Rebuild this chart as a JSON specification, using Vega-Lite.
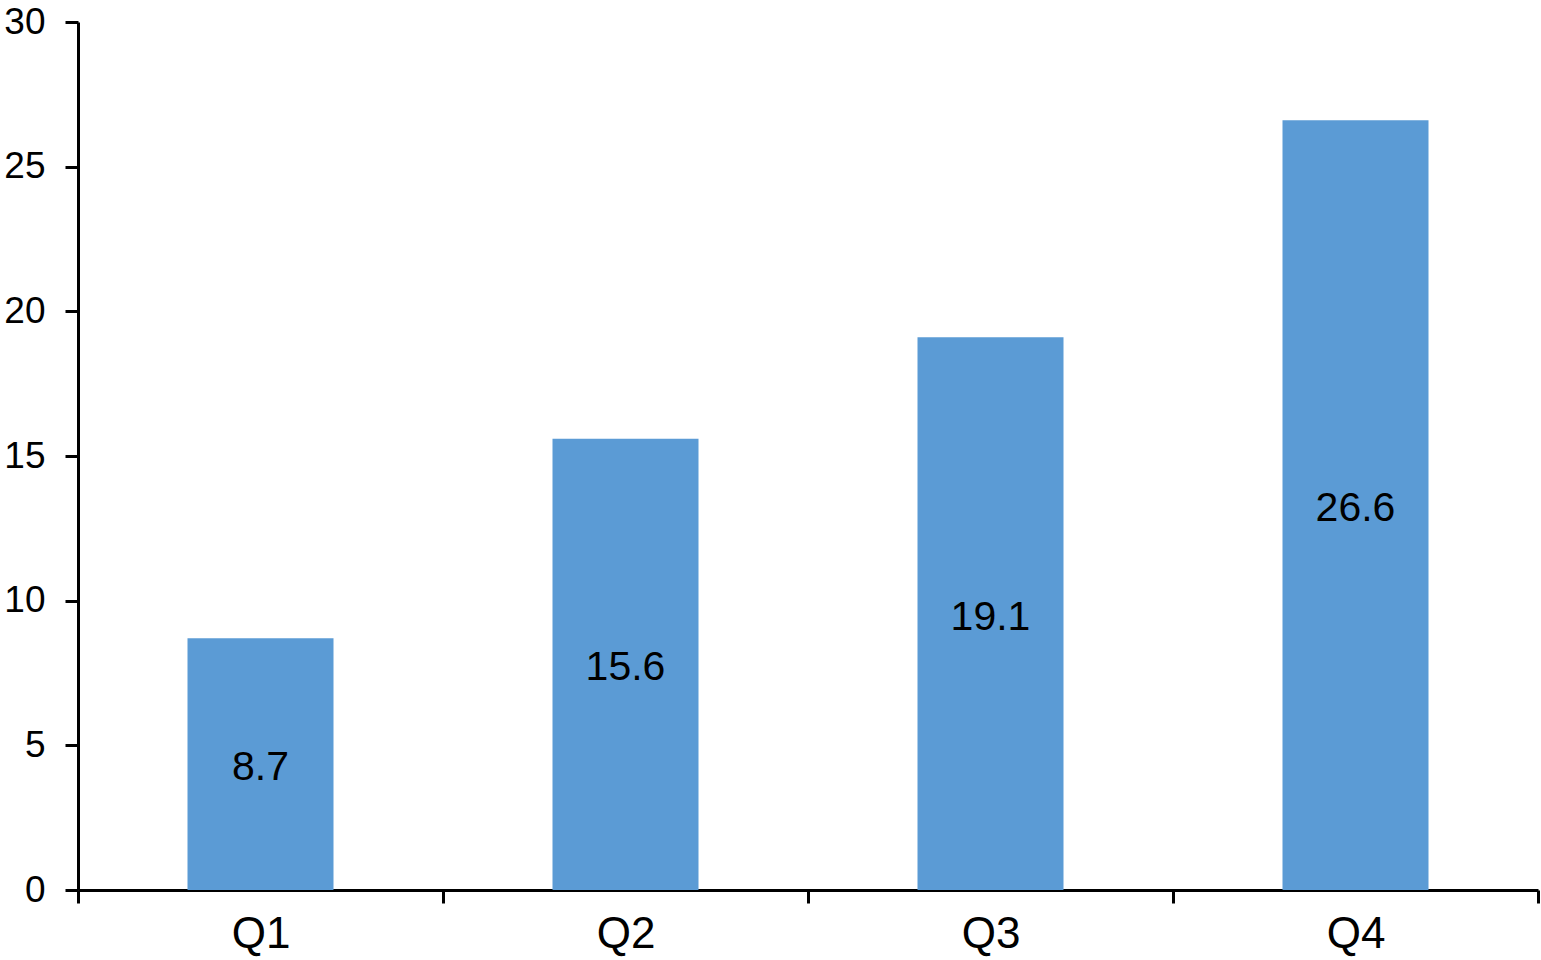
{
  "$schema": "https://vega.github.io/schema/vega-lite/v6.json",
  "width": 1460,
  "height": 868,
  "autosize": {"type": "none"},
  "padding": {"left": 78, "top": 22, "right": 3, "bottom": 70},
  "background": "white",
  "config": {
    "view": {"stroke": null},
    "font": "Liberation Sans"
  },
  "data": {
    "values": [
      {"quarter": "Q1", "value": 8.7},
      {"quarter": "Q2", "value": 15.6},
      {"quarter": "Q3", "value": 19.1},
      {"quarter": "Q4", "value": 26.6}
    ]
  },
  "encoding": {
    "x": {
      "field": "quarter",
      "type": "nominal",
      "sort": null,
      "title": null,
      "scale": {"paddingInner": 0, "paddingOuter": 0},
      "axis": {
        "labelAngle": 0,
        "labelFontSize": 44,
        "labelColor": "black",
        "labelPadding": 9,
        "domainColor": "black",
        "domainWidth": 3,
        "tickColor": "black",
        "tickWidth": 3,
        "tickSize": 13,
        "tickBand": "extent",
        "grid": false
      }
    }
  },
  "layer": [
    {
      "mark": {"type": "bar", "color": "#5B9BD5", "width": {"band": 0.4}},
      "encoding": {
        "y": {
          "field": "value",
          "type": "quantitative",
          "title": null,
          "scale": {"domain": [0, 30], "nice": false},
          "axis": {
            "values": [0, 5, 10, 15, 20, 25, 30],
            "labelFontSize": 37,
            "labelColor": "black",
            "labelPadding": 20,
            "domainColor": "black",
            "domainWidth": 3,
            "tickColor": "black",
            "tickWidth": 3,
            "tickSize": 13,
            "grid": false
          }
        }
      }
    },
    {
      "transform": [{"calculate": "datum.value / 2", "as": "mid"}],
      "mark": {"type": "text", "fontSize": 41, "color": "black", "baseline": "middle", "dy": 4},
      "encoding": {
        "y": {"field": "mid", "type": "quantitative", "scale": {"domain": [0, 30], "nice": false}},
        "text": {"field": "value", "type": "quantitative", "format": ".1f"}
      }
    }
  ]
}
